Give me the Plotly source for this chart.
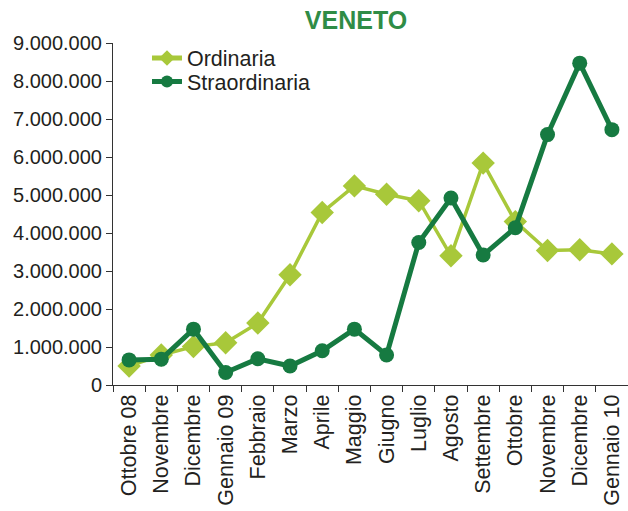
import plotly.graph_objects as go

months = ["Ottobre 08", "Novembre", "Dicembre", "Gennaio 09", "Febbraio", "Marzo",
          "Aprile", "Maggio", "Giugno", "Luglio", "Agosto", "Settembre", "Ottobre",
          "Novembre", "Dicembre", "Gennaio 10"]
ordinaria = [500000, 790000, 1010000, 1110000, 1630000, 2900000, 4540000, 5240000,
             5020000, 4850000, 3400000, 5840000, 4300000, 3540000, 3560000, 3450000]
straordinaria = [660000, 680000, 1470000, 330000, 690000, 500000, 900000, 1470000,
                 790000, 3750000, 4920000, 3420000, 4140000, 6590000, 8470000, 6720000]
y_ticks = [0, 1000000, 2000000, 3000000, 4000000, 5000000, 6000000, 7000000, 8000000, 9000000]

x = list(range(len(months)))
FONT = "Liberation Sans, Arial, sans-serif"
TXT = "#231F20"
LIGHT = "#A8C83A"
DARK = "#167A41"

fig = go.Figure()
fig.add_trace(go.Scatter(
    x=x, y=ordinaria, name="Ordinaria", mode="lines+markers",
    line=dict(color=LIGHT, width=3.5),
    marker=dict(symbol="diamond", size=18, color=LIGHT),
    legend="legend",
))
fig.add_trace(go.Scatter(
    x=x, y=straordinaria, name="Straordinaria", mode="lines+markers",
    line=dict(color=DARK, width=5),
    marker=dict(symbol="circle", size=15, color=DARK),
    legend="legend2",
))

legend_common = dict(x=0.066, xanchor="left", yref="container", yanchor="middle",
                     bgcolor="rgba(0,0,0,0)", itemsizing="constant",
                     font=dict(family=FONT, size=21.5, color=TXT))

fig.update_layout(
    width=628, height=511,
    margin=dict(l=113, r=0, t=43, b=126, autoexpand=False),
    paper_bgcolor="white", plot_bgcolor="white",
    separators=",.",
    font=dict(family=FONT, color=TXT, size=20),
    title=dict(text="<b>VENETO</b>", x=356 / 628, xref="container", xanchor="center",
               y=1 - 20 / 511, yref="container", yanchor="middle",
               font=dict(family=FONT, size=25, color="#2F8C46")),
    showlegend=True,
    legend=dict(y=1 - 58 / 511, **legend_common),
    legend2=dict(y=1 - 81.5 / 511, **legend_common),
    xaxis=dict(
        range=[-0.5, len(months) - 0.5], automargin=False,
        tickmode="array", tickvals=x, ticktext=months, tickangle=-90,
        ticks="", showgrid=False, zeroline=False,
        showline=True, linecolor="#333", linewidth=1,
        tickfont=dict(family=FONT, size=21.5, color=TXT),
        minor=dict(tickmode="array", tickvals=[i - 0.5 for i in range(len(months) + 1)],
                   ticks="outside", ticklen=6, tickcolor="#333", tickwidth=1, showgrid=False),
    ),
    yaxis=dict(
        range=[0, 9000000], automargin=False,
        tickmode="array", tickvals=y_ticks, tickformat=",d",
        ticks="outside", ticklen=6, tickcolor="#333", tickwidth=1,
        showgrid=False, zeroline=False,
        showline=True, linecolor="#333", linewidth=1,
        tickfont=dict(family=FONT, size=20, color=TXT),
    ),
)

fig.write_html("out.html", config={"displayModeBar": False},
               post_script="document.body.style.margin='0px';")
